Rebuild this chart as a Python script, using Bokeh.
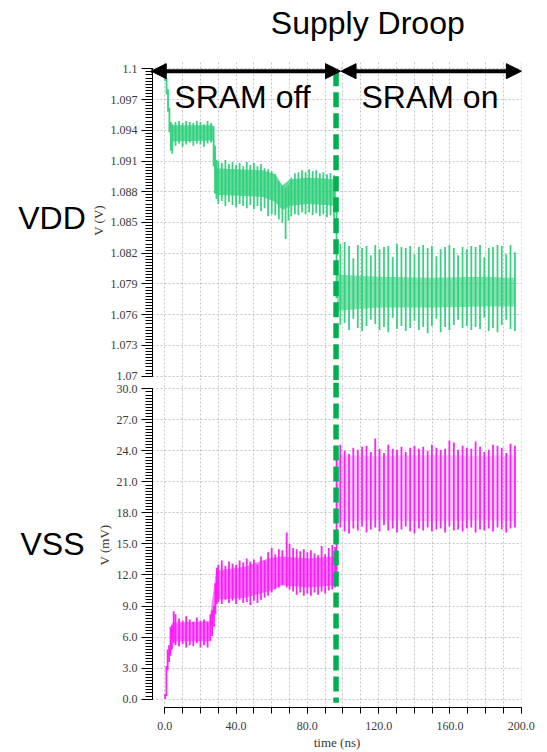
import numpy as np
from bokeh.plotting import figure
from bokeh.layouts import column, row
from bokeh.models import (ColumnDataSource, FixedTicker, PrintfTickFormatter,
                          Arrow, NormalHead, Range1d)
from bokeh.core.properties import value
from bokeh.embed import file_html
from bokeh.resources import INLINE

# ---------------- data ----------------
X_TICKS = [0, 40, 80, 120, 160, 200]
X_GRID = [0, 10, 20, 30, 40, 50, 60, 70, 80, 90, 100, 110, 120, 130, 140, 150, 160, 170, 180, 190, 200]
VDD_TICKS = [1.07, 1.073, 1.076, 1.079, 1.082, 1.085, 1.088, 1.091, 1.094, 1.097, 1.1]
VSS_TICKS = [0.0, 3.0, 6.0, 9.0, 12.0, 15.0, 18.0, 21.0, 24.0, 27.0, 30.0]
T_SWITCH = 96.1   # SRAM turned on (ns)

# VDD (V): vertical strokes of the waveform before SRAM turns on
VDD_PRE_T = [0.2, 1.0, 1.8, 2.6, 3.4, 4.2, 6, 8, 10, 12,
             14, 16, 18, 20, 22, 24, 26, 27.4, 28.2, 29,
             30, 32, 34, 36, 38, 40, 42, 44, 46, 48,
             50, 52, 54, 56, 58, 60, 62, 64, 66, 67.8,
             69.4, 71, 73, 75, 77, 79, 81, 83, 85, 87,
             89, 91, 93, 95, 96.4]
VDD_PRE_HI = [1.0998, 1.0991, 1.0980, 1.0962, 1.0948, 1.0946, 1.0948, 1.0949, 1.0947, 1.0949,
              1.0948, 1.0947, 1.0949, 1.0948, 1.0946, 1.0949, 1.0947, 1.0944, 1.0925, 1.0911,
              1.0910, 1.0908, 1.0911, 1.0907, 1.0909, 1.0906, 1.0908, 1.0905, 1.0909, 1.0906,
              1.0908, 1.0905, 1.0907, 1.0903, 1.0902, 1.0900, 1.0897, 1.0890, 1.0886, 1.0884,
              1.0886, 1.0894, 1.0898, 1.0899, 1.0901, 1.0899, 1.0902, 1.0900, 1.0901, 1.0898,
              1.0899, 1.0897, 1.0898, 1.0896, 1.0868]
VDD_PRE_LO = [1.0988, 1.0975, 1.0958, 1.0938, 1.0920, 1.0917, 1.0925, 1.0927, 1.0924, 1.0926,
              1.0928, 1.0925, 1.0927, 1.0926, 1.0924, 1.0927, 1.0928, 1.0905, 1.0878, 1.0873,
              1.0868, 1.0871, 1.0866, 1.0870, 1.0867, 1.0865, 1.0868, 1.0866, 1.0864, 1.0867,
              1.0863, 1.0866, 1.0861, 1.0864, 1.0856, 1.0858, 1.0857, 1.0853, 1.0850, 1.0834,
              1.0852, 1.0856, 1.0858, 1.0857, 1.0860, 1.0858, 1.0860, 1.0857, 1.0859, 1.0856,
              1.0858, 1.0855, 1.0857, 1.0854, 1.0776]

# strokes after SRAM turns on (shared times)
POST_T = [98.5, 100.9, 103.4, 105.8, 108.3, 110.7, 113.2, 115.6, 118.1, 120.5,
          123.0, 125.4, 127.9, 130.3, 132.8, 135.2, 137.7, 140.1, 142.6, 145.0,
          147.5, 149.9, 152.4, 154.8, 157.3, 159.7, 162.2, 164.6, 167.1, 169.5,
          172.0, 174.4, 176.9, 179.3, 181.8, 184.2, 186.7, 189.1, 191.6, 194.0,
          196.5]
VDD_POST_HI = [1.0829, 1.0831, 1.0827, 1.0815, 1.0828, 1.0825, 1.0827, 1.0818, 1.0828, 1.0824,
               1.0826, 1.0827, 1.0816, 1.0829, 1.0826, 1.0825, 1.0827, 1.0819, 1.0826, 1.0828,
               1.0825, 1.0827, 1.0817, 1.0824, 1.0826, 1.0828, 1.0825, 1.0818, 1.0826, 1.0824,
               1.0827, 1.0826, 1.0828, 1.0816, 1.0825, 1.0826, 1.0828, 1.0827, 1.0819, 1.0828,
               1.0821]
VDD_POST_LO = [1.0750, 1.0752, 1.0745, 1.0756, 1.0747, 1.0744, 1.0749, 1.0755, 1.0751, 1.0745,
               1.0748, 1.0743, 1.0757, 1.0746, 1.0749, 1.0744, 1.0747, 1.0754, 1.0745, 1.0748,
               1.0742, 1.0749, 1.0756, 1.0743, 1.0748, 1.0745, 1.0750, 1.0755, 1.0747, 1.0749,
               1.0745, 1.0748, 1.0746, 1.0757, 1.0744, 1.0747, 1.0743, 1.0750, 1.0755, 1.0746,
               1.0744]
# dense core of the VDD trace
VDD_CORE_T = [4.2, 27.0, 28.8, 40, 55, 62, 66, 70, 80, 90, 96.2, 96.6, 98, 120, 150, 180, 196.5]
VDD_CORE_LO = [1.0929, 1.0930, 1.0877, 1.0876, 1.0875, 1.0870, 1.0862, 1.0866, 1.0868, 1.0867,
               1.0866, 1.0760, 1.0764, 1.0767, 1.0767, 1.0768, 1.0768]
VDD_CORE_HI = [1.0945, 1.0945, 1.0903, 1.0902, 1.0901, 1.0897, 1.0886, 1.0892, 1.0894, 1.0893,
               1.0892, 1.0800, 1.0799, 1.0797, 1.0796, 1.0797, 1.0796]

# VSS (mV)
VSS_PRE_T = [0.2, 0.9, 1.6, 2.4, 3.2, 4.0, 5.0, 6, 8, 10,
             12, 14, 16, 18, 20, 22, 24, 25.6, 26.6, 27.6,
             28.4, 29.2, 30, 32, 34, 36, 38, 40, 42, 44,
             46, 48, 50, 52, 54, 56, 58, 60, 62, 64,
             66, 68.4, 70, 72, 74, 76, 78, 80, 82, 84,
             86, 88, 90, 92, 94, 95.6, 96.4]
VSS_PRE_HI = [0.5, 3.2, 4.8, 5.2, 7.0, 7.2, 8.5, 8.2, 7.8, 7.6,
              8.0, 7.7, 7.5, 7.9, 7.6, 7.7, 7.5, 8.2, 8.6, 9.0,
              11.2, 12.7, 13.0, 13.4, 12.9, 13.3, 13.1, 13.0, 13.4, 13.2,
              13.6, 13.3, 13.5, 13.0, 13.8, 13.4, 14.2, 14.6, 14.0, 14.5,
              14.4, 16.1, 15.0, 14.6, 14.5, 14.3, 14.5, 14.2, 14.4, 14.1,
              13.9, 14.8, 14.0, 14.6, 14.9, 14.7, 24.0]
VSS_PRE_LO = [0.0, 0.3, 2.8, 3.6, 4.2, 4.8, 5.4, 5.2, 5.1, 5.3,
              5.0, 5.2, 5.1, 5.4, 5.0, 5.2, 5.0, 5.6, 6.1, 7.0,
              8.2, 9.2, 9.4, 9.2, 9.6, 9.3, 9.5, 9.2, 9.6, 9.3,
              9.4, 9.1, 9.5, 9.3, 9.6, 9.8, 10.0, 10.3, 10.6, 10.8,
              11.0, 10.8, 10.6, 10.4, 10.1, 10.3, 10.0, 10.2, 10.0, 10.3,
              10.1, 10.4, 10.2, 10.5, 10.6, 10.8, 12.0]
VSS_POST_HI = [24.6, 24.0, 23.7, 24.3, 24.1, 24.4, 24.5, 23.9, 25.2, 24.2,
               23.8, 24.6, 24.2, 24.1, 24.4, 23.9, 24.3, 24.5, 24.2, 24.4,
               24.0, 24.6, 24.3, 24.1, 24.2, 25.0, 24.8, 24.1, 24.5, 24.3,
               24.2, 24.9, 24.4, 23.9, 24.1, 24.6, 24.5, 24.3, 23.8, 24.7,
               24.5]
VSS_POST_LO = [16.6, 16.2, 16.0, 16.5, 16.3, 16.7, 16.1, 16.4, 16.6, 16.2,
               16.8, 16.3, 16.5, 16.1, 16.4, 16.7, 16.2, 16.0, 16.5, 16.3,
               16.6, 16.2, 16.4, 16.5, 16.1, 16.7, 16.3, 16.4, 16.2, 16.5,
               16.6, 16.1, 16.4, 16.3, 16.5, 16.2, 16.6, 16.4, 16.1, 16.5,
               16.6]
VSS_CORE_T = [4, 25, 28.8, 45, 58, 66, 80, 96.2, 96.6, 120, 150, 180, 196.5]
VSS_CORE_LO = [5.6, 5.6, 9.6, 9.8, 10.4, 11.0, 10.8, 11.0, 17.2, 17.3, 17.2, 17.3, 17.2]
VSS_CORE_HI = [7.4, 7.5, 12.4, 12.8, 13.6, 13.8, 13.6, 13.8, 23.6, 23.5, 23.6, 23.5, 23.6]

TITLE = "Supply Droop"
PHASES = ["SRAM off", "SRAM on"]
PANELS = ["VDD", "VSS"]

# ---------------- styling ----------------
GREEN = "#2fcf7b"
MAGENTA = "#ff14ff"
DROOP = "#00b050"
SERIF = "Liberation Serif"
SANS = "Liberation Sans"
GRID_C = "#c4c4c4"
X_RANGE = (-6.9, 200.17)
LEFT_W = 86
MAIN_W = 547 - LEFT_W
BORDER_L = 152 - LEFT_W


def split(t, a, b):
    pre = [i for i, v in enumerate(t) if v <= T_SWITCH + 0.3]
    post = [i for i, v in enumerate(t) if v > T_SWITCH + 0.3]
    pick = lambda arr, idx: [arr[i] for i in idx]
    return ((pick(t, pre), pick(a, pre), pick(b, pre)),
            (pick(t, post), pick(a, post), pick(b, post)))


def style_axes(p, yticks, yfmt, minor_step, ylabel, ybounds):
    p.outline_line_color = None
    p.background_fill_color = "white"
    p.border_fill_color = "white"
    yax = p.yaxis[0]
    yax.ticker = FixedTicker(ticks=yticks,
                             minor_ticks=list(np.round(np.arange(yticks[0], yticks[-1] + minor_step / 2, minor_step), 6)))
    yax.formatter = PrintfTickFormatter(format=yfmt)
    yax.bounds = ybounds
    yax.major_tick_out = 11
    yax.major_tick_in = 0
    yax.minor_tick_out = 7
    yax.minor_tick_in = 0
    yax.axis_line_color = "black"
    yax.major_tick_line_color = "black"
    yax.minor_tick_line_color = "black"
    yax.major_label_text_font = SERIF
    yax.major_label_text_font_size = "12px"
    yax.major_label_text_color = "#3a3a3a"
    yax.major_label_standoff = 4
    yax.axis_label = ylabel
    yax.axis_label_text_font = SERIF
    yax.axis_label_text_font_size = "13px"
    yax.axis_label_text_font_style = "normal"
    yax.axis_label_text_color = "#3a3a3a"
    yax.axis_label_standoff = 2
    p.ygrid.ticker = FixedTicker(ticks=yticks)
    p.xgrid.ticker = FixedTicker(ticks=X_GRID)
    for g in p.grid:
        g.grid_line_color = GRID_C
        g.grid_line_dash = "2 2"
        g.grid_line_width = 1


big = dict(text_font=value(SANS), text_font_size="32px", text_color="black",
           text_align="center", text_baseline="middle")


def blank(fig):
    fig.axis.visible = False
    fig.grid.visible = False
    fig.outline_line_color = None
    fig.background_fill_color = "white"
    fig.border_fill_color = "white"


# ---------------- left label column (pixel-like coordinates) ----------------
left = figure(width=LEFT_W, height=752, x_range=Range1d(0, LEFT_W), y_range=Range1d(752, 0),
              output_backend="svg", toolbar_location=None,
              min_border_left=0, min_border_right=0, min_border_top=0, min_border_bottom=0)
blank(left)
left.text(x=[51.5, 52], y=[217, 543], text=PANELS, **big)

# ---------------- header ----------------
header = figure(width=MAIN_W, height=60, x_range=Range1d(LEFT_W, 547), y_range=Range1d(60, 0),
                output_backend="svg", toolbar_location=None,
                min_border_left=0, min_border_right=0, min_border_top=0, min_border_bottom=0)
blank(header)
header.text(x=[355], y=[22], text=[TITLE], **big)

# ---------------- top panel (VDD) ----------------
top = figure(width=MAIN_W, height=322, x_range=Range1d(*X_RANGE), y_range=Range1d(1.06958, 1.10081),
             output_backend="svg", toolbar_location=None,
             min_border_left=BORDER_L, min_border_right=26, min_border_top=0, min_border_bottom=2)
style_axes(top, VDD_TICKS, "%g", 0.0003, "V (V)", (1.07, 1.1))
top.xaxis.visible = False

(c_pre, c_post) = split(VDD_CORE_T, VDD_CORE_LO, VDD_CORE_HI)
top.varea(x=c_pre[0], y1=c_pre[1], y2=c_pre[2], fill_color=GREEN, fill_alpha=0.75)
top.varea(x=c_post[0], y1=c_post[1], y2=c_post[2], fill_color=GREEN, fill_alpha=0.6)
src_vdd_pre = ColumnDataSource(dict(t=VDD_PRE_T, hi=VDD_PRE_HI, lo=VDD_PRE_LO))
src_vdd_post = ColumnDataSource(dict(t=POST_T, hi=VDD_POST_HI, lo=VDD_POST_LO))
for s in (src_vdd_pre, src_vdd_post):
    top.segment(x0="t", y0="lo", x1="t", y1="hi", source=s, line_color=GREEN, line_width=1.8, line_alpha=0.95)

top.segment(x0=[T_SWITCH], y0=[1.09977], x1=[T_SWITCH], y1=[1.06958], line_color=DROOP,
            line_width=5.5, line_dash="15 6")

head = dict(size=15, fill_color="black", line_color="black")
top.add_layout(Arrow(start=NormalHead(**head), end=NormalHead(**head), x_start=-7.6, y_start=1.09977,
                     x_end=98.6, y_end=1.09977, line_width=4, line_color="black"))
top.add_layout(Arrow(start=NormalHead(**head), end=NormalHead(**head), x_start=98.9, y_start=1.09977,
                     x_end=200.1, y_end=1.09977, line_width=4, line_color="black"))
top.text(x=[43.6, 148.8], y=[1.0972, 1.0972], text=PHASES, **big)

# ---------------- bottom panel (VSS) ----------------
bot = figure(width=MAIN_W, height=370, x_range=top.x_range, y_range=Range1d(-0.81, 30.61),
             output_backend="svg", toolbar_location=None,
             min_border_left=BORDER_L, min_border_right=26, min_border_top=0, min_border_bottom=44)
style_axes(bot, VSS_TICKS, "%.1f", 0.3, "V (mV)", (0, 30))
xax = bot.xaxis[0]
xax.ticker = FixedTicker(ticks=X_TICKS, minor_ticks=X_GRID)
xax.formatter = PrintfTickFormatter(format="%.1f")
xax.bounds = (0, 200)
xax.major_tick_out = 6
xax.major_tick_in = 0
xax.minor_tick_out = 6
xax.minor_tick_in = 0
xax.axis_line_color = "black"
xax.major_tick_line_color = "black"
xax.minor_tick_line_color = "black"
xax.major_label_text_font = SERIF
xax.major_label_text_font_size = "12px"
xax.major_label_text_color = "#3a3a3a"
xax.major_label_standoff = 8
xax.axis_label = "time (ns)"
xax.axis_label_text_font = SERIF
xax.axis_label_text_font_size = "13px"
xax.axis_label_text_font_style = "normal"
xax.axis_label_text_color = "#3a3a3a"
xax.axis_label_standoff = 2

(s_pre, s_post) = split(VSS_CORE_T, VSS_CORE_LO, VSS_CORE_HI)
bot.varea(x=s_pre[0], y1=s_pre[1], y2=s_pre[2], fill_color=MAGENTA, fill_alpha=0.55)
bot.varea(x=s_post[0], y1=s_post[1], y2=s_post[2], fill_color=MAGENTA, fill_alpha=0.2)
src_vss_pre = ColumnDataSource(dict(t=VSS_PRE_T, hi=VSS_PRE_HI, lo=VSS_PRE_LO))
src_vss_post = ColumnDataSource(dict(t=POST_T, hi=VSS_POST_HI, lo=VSS_POST_LO))
for s in (src_vss_pre, src_vss_post):
    bot.segment(x0="t", y0="lo", x1="t", y1="hi", source=s, line_color=MAGENTA, line_width=1.8, line_alpha=0.95)

bot.segment(x0=[T_SWITCH], y0=[30.61], x1=[T_SWITCH], y1=[-0.36], line_color=DROOP,
            line_width=5.5, line_dash="15 6")

layout = row(left, column(header, top, bot, spacing=0), spacing=0)
open("out.html", "w").write(file_html(layout, INLINE))
